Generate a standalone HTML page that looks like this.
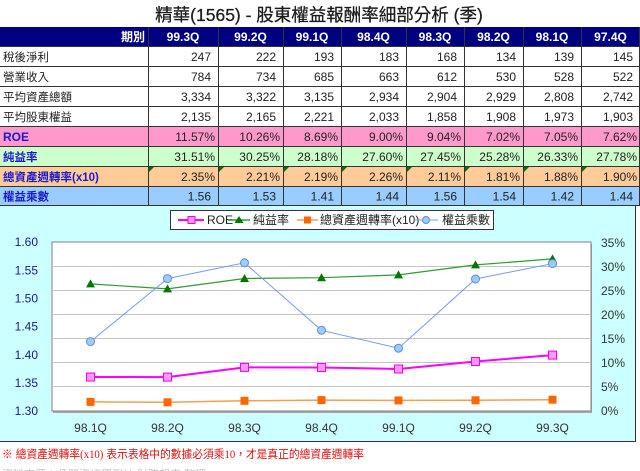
<!DOCTYPE html>
<html>
<head>
<meta charset="utf-8">
<style>
html,body{margin:0;padding:0;background:#fff;}
svg{display:block;}
text{font-family:"Liberation Sans","Noto Sans CJK TC",sans-serif;}
</style>
</head>
<body>
<svg width="640" height="471" viewBox="0 0 640 471" xmlns="http://www.w3.org/2000/svg">
<rect x="0" y="0" width="640" height="471" fill="#ffffff"/>

<!-- Title -->
<text x="319" y="21" font-size="17.5" fill="#1a1a1a" text-anchor="middle" stroke="#1a1a1a" stroke-width="0.25">精華(1565) - 股東權益報酬率細部分析 (季)</text>

<!-- Table backgrounds -->
<rect x="0" y="27" width="640" height="19" fill="#000080"/>
<rect x="0" y="126" width="640" height="20" fill="#ff99cc"/>
<rect x="0" y="146" width="640" height="20" fill="#ccffcc"/>
<rect x="0" y="166" width="640" height="20" fill="#ffcc99"/>
<rect x="0" y="186" width="640" height="19" fill="#99ccff"/>

<!-- green corner triangles in orange row -->
<g fill="#007000">
<polygon points="149,167 154,167 149,172"/>
<polygon points="219,167 224,167 219,172"/>
<polygon points="284,167 289,167 284,172"/>
<polygon points="342,167 347,167 342,172"/>
<polygon points="407,167 412,167 407,172"/>
<polygon points="465,167 470,167 465,172"/>
<polygon points="524,167 529,167 524,172"/>
<polygon points="582,167 587,167 582,172"/>
</g>

<!-- grid lines -->
<g stroke="#333" stroke-width="1" shape-rendering="crispEdges">
<line x1="0" y1="46.5" x2="640" y2="46.5"/>
<line x1="0" y1="66.5" x2="640" y2="66.5"/>
<line x1="0" y1="86.5" x2="640" y2="86.5"/>
<line x1="0" y1="106.5" x2="640" y2="106.5"/>
<line x1="0" y1="126.5" x2="640" y2="126.5"/>
<line x1="0" y1="146.5" x2="640" y2="146.5"/>
<line x1="0" y1="166.5" x2="640" y2="166.5"/>
<line x1="0" y1="186.5" x2="640" y2="186.5"/>
<line x1="0" y1="205.5" x2="640" y2="205.5"/>
<line x1="148.5" y1="27" x2="148.5" y2="206"/>
<line x1="218.5" y1="27" x2="218.5" y2="206"/>
<line x1="283.5" y1="27" x2="283.5" y2="206"/>
<line x1="341.5" y1="27" x2="341.5" y2="206"/>
<line x1="406.5" y1="27" x2="406.5" y2="206"/>
<line x1="464.5" y1="27" x2="464.5" y2="206"/>
<line x1="523.5" y1="27" x2="523.5" y2="206"/>
<line x1="581.5" y1="27" x2="581.5" y2="206"/>
<line x1="639.5" y1="27" x2="639.5" y2="206"/>
</g>

<!-- Header text -->
<g font-size="12" font-weight="bold" fill="#ffffff" text-anchor="middle">
<text x="145" y="41" text-anchor="end">期別</text>
<text x="183" y="41">99.3Q</text>
<text x="250.5" y="41">99.2Q</text>
<text x="312" y="41">99.1Q</text>
<text x="373.5" y="41">98.4Q</text>
<text x="435" y="41">98.3Q</text>
<text x="493.5" y="41">98.2Q</text>
<text x="552" y="41">98.1Q</text>
<text x="610.5" y="41">97.4Q</text>
</g>

<!-- Row labels -->
<g font-size="11.5" fill="#222">
<text x="3" y="61">稅後淨利</text>
<text x="3" y="81">營業收入</text>
<text x="3" y="101">平均資產總額</text>
<text x="3" y="121">平均股東權益</text>
</g>
<g font-size="11.5" font-weight="bold" fill="#1a1acd">
<text x="3" y="141" font-size="12">ROE</text>
<text x="3" y="161">純益率</text>
<text x="3" y="181">總資產週轉率(x10)</text>
<text x="3" y="200.5">權益乘數</text>
</g>

<!-- Numbers -->
<g font-size="12" fill="#222" text-anchor="end">
<text x="211" y="61">247</text><text x="276" y="61">222</text><text x="334" y="61">193</text><text x="399" y="61">183</text><text x="457" y="61">168</text><text x="516" y="61">134</text><text x="574" y="61">139</text><text x="633" y="61">145</text>
<text x="211" y="81">784</text><text x="276" y="81">734</text><text x="334" y="81">685</text><text x="399" y="81">663</text><text x="457" y="81">612</text><text x="516" y="81">530</text><text x="574" y="81">528</text><text x="633" y="81">522</text>
<text x="211" y="101">3,334</text><text x="276" y="101">3,322</text><text x="334" y="101">3,135</text><text x="399" y="101">2,934</text><text x="457" y="101">2,904</text><text x="516" y="101">2,929</text><text x="574" y="101">2,808</text><text x="633" y="101">2,742</text>
<text x="211" y="121">2,135</text><text x="276" y="121">2,165</text><text x="334" y="121">2,221</text><text x="399" y="121">2,033</text><text x="457" y="121">1,858</text><text x="516" y="121">1,908</text><text x="574" y="121">1,973</text><text x="633" y="121">1,903</text>
<text x="215" y="141">11.57%</text><text x="280" y="141">10.26%</text><text x="338" y="141">8.69%</text><text x="403" y="141">9.00%</text><text x="461" y="141">9.04%</text><text x="520" y="141">7.02%</text><text x="578" y="141">7.05%</text><text x="637" y="141">7.62%</text>
<text x="215" y="161">31.51%</text><text x="280" y="161">30.25%</text><text x="338" y="161">28.18%</text><text x="403" y="161">27.60%</text><text x="461" y="161">27.45%</text><text x="520" y="161">25.28%</text><text x="578" y="161">26.33%</text><text x="637" y="161">27.78%</text>
<text x="215" y="181">2.35%</text><text x="280" y="181">2.21%</text><text x="338" y="181">2.19%</text><text x="403" y="181">2.26%</text><text x="461" y="181">2.11%</text><text x="520" y="181">1.81%</text><text x="578" y="181">1.88%</text><text x="637" y="181">1.90%</text>
<text x="211" y="200.5">1.56</text><text x="276" y="200.5">1.53</text><text x="334" y="200.5">1.41</text><text x="399" y="200.5">1.44</text><text x="457" y="200.5">1.56</text><text x="516" y="200.5">1.54</text><text x="574" y="200.5">1.42</text><text x="633" y="200.5">1.44</text>
</g>

<!-- Chart area -->
<rect x="0" y="206" width="636" height="235" fill="#ccffff"/>
<line x1="0" y1="441.5" x2="636" y2="441.5" stroke="#333" stroke-width="1" shape-rendering="crispEdges"/>
<line x1="635.5" y1="206" x2="635.5" y2="442" stroke="#333" stroke-width="1" shape-rendering="crispEdges"/>

<!-- Legend -->
<rect x="170.5" y="210.5" width="323" height="19" fill="#ffffff" stroke="#333" stroke-width="1" shape-rendering="crispEdges"/>
<line x1="178" y1="220" x2="204" y2="220" stroke="#ff00ff" stroke-width="2"/>
<rect x="188" y="216.5" width="7" height="7" fill="#ff99ff" stroke="#ee00ee" stroke-width="1"/>
<text x="207" y="224" font-size="12" fill="#222">ROE</text>
<line x1="228" y1="220" x2="250" y2="220" stroke="#339933" stroke-width="1.5"/>
<polygon points="239,216 243.5,223 234.5,223" fill="#007700"/>
<text x="253" y="224" font-size="12" fill="#222">純益率</text>
<line x1="297" y1="220" x2="318" y2="220" stroke="#f0a050" stroke-width="1.5"/>
<rect x="304" y="216.5" width="7" height="7" fill="#ff6600"/>
<text x="320" y="224" font-size="12" fill="#222">總資產週轉率(x10)</text>
<line x1="414" y1="220" x2="438" y2="220" stroke="#7799ee" stroke-width="1"/>
<circle cx="426" cy="220" r="3.5" fill="#99ccff" stroke="#6688dd" stroke-width="1"/>
<text x="442" y="224" font-size="12" fill="#222">權益乘數</text>

<!-- Plot area -->
<rect x="53" y="244" width="539" height="169" fill="#aaaaaa"/>
<rect x="52" y="242" width="539" height="169" fill="#ffffff" stroke="#808080" stroke-width="1"/>
<g stroke="#c4c4c4" stroke-width="1" shape-rendering="crispEdges">
<line x1="53" y1="266.5" x2="590" y2="266.5"/>
<line x1="53" y1="290.5" x2="590" y2="290.5"/>
<line x1="53" y1="314.5" x2="590" y2="314.5"/>
<line x1="53" y1="338.5" x2="590" y2="338.5"/>
<line x1="53" y1="362.5" x2="590" y2="362.5"/>
<line x1="53" y1="386.5" x2="590" y2="386.5"/>
</g>

<!-- Left axis labels -->
<g font-size="12" fill="#1a1a8c" text-anchor="end">
<text x="38" y="246">1.60</text>
<text x="38" y="274.5">1.55</text>
<text x="38" y="302.5">1.50</text>
<text x="38" y="330.5">1.45</text>
<text x="38" y="359">1.40</text>
<text x="38" y="387">1.35</text>
<text x="38" y="415">1.30</text>
</g>
<!-- Right axis labels -->
<g font-size="12" fill="#333" text-anchor="start">
<text x="601" y="247">35%</text>
<text x="601" y="271">30%</text>
<text x="601" y="295">25%</text>
<text x="601" y="319">20%</text>
<text x="601" y="343">15%</text>
<text x="601" y="367">10%</text>
<text x="601" y="391">5%</text>
<text x="601" y="415">0%</text>
</g>
<!-- X labels -->
<g font-size="12" fill="#333" text-anchor="middle">
<text x="90.5" y="432">98.1Q</text>
<text x="167.5" y="432">98.2Q</text>
<text x="244.5" y="432">98.3Q</text>
<text x="321.5" y="432">98.4Q</text>
<text x="398.5" y="432">99.1Q</text>
<text x="475.5" y="432">99.2Q</text>
<text x="552.5" y="432">99.3Q</text>
</g>

<!-- Series: 總資產週轉率(x10) -->
<polyline points="90.5,401.9 167.5,402.3 244.5,400.8 321.5,400.1 398.5,400.4 475.5,400.3 552.5,399.7" fill="none" stroke="#f0a050" stroke-width="1.5"/>
<g fill="#ff6600">
<rect x="86.5" y="397.9" width="8" height="8"/>
<rect x="163.5" y="398.3" width="8" height="8"/>
<rect x="240.5" y="396.8" width="8" height="8"/>
<rect x="317.5" y="396.1" width="8" height="8"/>
<rect x="394.5" y="396.4" width="8" height="8"/>
<rect x="471.5" y="396.3" width="8" height="8"/>
<rect x="548.5" y="395.7" width="8" height="8"/>
</g>

<!-- Series: ROE -->
<polyline points="90.5,377 167.5,377.1 244.5,367.4 321.5,367.5 398.5,369 475.5,361.5 552.5,355.1" fill="none" stroke="#ff00ff" stroke-width="2"/>
<g fill="#ff99ff" stroke="#ee00ee" stroke-width="1">
<rect x="86.5" y="373" width="8" height="8"/>
<rect x="163.5" y="373.1" width="8" height="8"/>
<rect x="240.5" y="363.4" width="8" height="8"/>
<rect x="317.5" y="363.5" width="8" height="8"/>
<rect x="394.5" y="365" width="8" height="8"/>
<rect x="471.5" y="357.5" width="8" height="8"/>
<rect x="548.5" y="351.1" width="8" height="8"/>
</g>

<!-- Series: 純益率 -->
<polyline points="90.5,283.9 167.5,288.9 244.5,278.5 321.5,277.7 398.5,274.9 475.5,264.9 552.5,258.9" fill="none" stroke="#339933" stroke-width="1.2"/>
<g fill="#007700">
<polygon points="90.5,279.4 95,287.4 86,287.4"/>
<polygon points="167.5,284.4 172,292.4 163,292.4"/>
<polygon points="244.5,274 249,282 240,282"/>
<polygon points="321.5,273.2 326,281.2 317,281.2"/>
<polygon points="398.5,270.4 403,278.4 394,278.4"/>
<polygon points="475.5,260.4 480,268.4 471,268.4"/>
<polygon points="552.5,254.4 557,262.4 548,262.4"/>
</g>

<!-- Series: 權益乘數 -->
<polyline points="90.5,341.6 167.5,278.6 244.5,262.8 321.5,330.3 398.5,348.2 475.5,279 552.5,263.6" fill="none" stroke="#7799ee" stroke-width="1"/>
<g fill="#99ccff" stroke="#6688dd" stroke-width="1">
<circle cx="90.5" cy="341.6" r="4"/>
<circle cx="167.5" cy="278.6" r="4"/>
<circle cx="244.5" cy="262.8" r="4"/>
<circle cx="321.5" cy="330.3" r="4"/>
<circle cx="398.5" cy="348.2" r="4"/>
<circle cx="475.5" cy="279" r="4"/>
<circle cx="552.5" cy="263.6" r="4"/>
</g>

<!-- Footer -->
<text x="2" y="458" font-size="11.5" fill="#dd1111" textLength="362" lengthAdjust="spacingAndGlyphs">※ 總資產週轉率<tspan font-family="Liberation Serif, serif">(x10)</tspan> 表示表格中的數據必須乘<tspan font-family="Liberation Serif, serif">10</tspan>，才是真正的總資產週轉率</text>
<text x="2" y="478" font-size="11" fill="#c0c0c0">資料來源：公開資訊觀測站 財務報表 整理</text>
</svg>
</body>
</html>
